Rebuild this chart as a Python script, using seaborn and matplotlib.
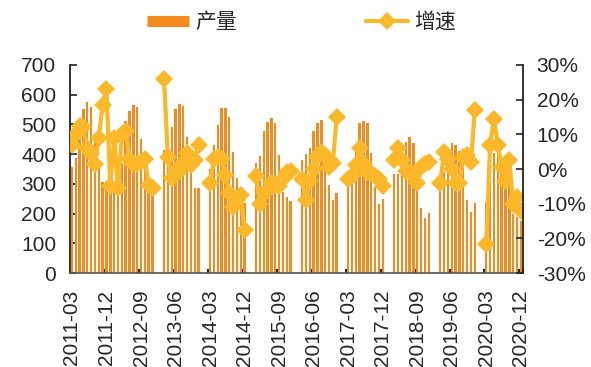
import numpy as np
import pandas as pd
import matplotlib
matplotlib.use('Agg')
import matplotlib.pyplot as plt
import seaborn as sns
from matplotlib.lines import Line2D
from matplotlib.ticker import FixedLocator, FuncFormatter

nan = np.nan
months = pd.date_range('2011-03-01', '2020-12-01', freq='MS').strftime('%Y-%m').tolist()

prod_2011 = [358, 386, 470, 552, 577, 560, 460, 362, 305, 292]
prod_2012 = [282, 285, 310, 370, 513, 545, 566, 558, 450, 390, 305, 285]
prod_2013 = [nan, nan, 415, 440, 490, 551, 570, 562, 458, 410, 285, 285]
prod_2014 = [nan, nan, 350, 431, 498, 555, 555, 526, 408, 319, 240, 235]
prod_2015 = [nan, nan, 370, 395, 478, 509, 521, 504, 397, 274, 257, 243]
prod_2016 = [nan, nan, 380, 400, 420, 478, 504, 515, 408, 296, 246, 268]
prod_2017 = [nan, nan, 330, 355, 431, 504, 513, 504, 405, 290, 232, 248]
prod_2018 = [nan, nan, 332, 332, 400, 440, 458, 437, 300, 218, 184, 201]
prod_2019 = [nan, nan, 330, 340, 380, 437, 430, 410, 360, 245, 205, 235]
prod_2020 = [nan, nan, 240, 305, 405, 400, 370, 345, 300, 200, 190, 175]

g_2011 = [7, 10, 12.5, 12, 6, 4.5, 1.5, 9, 18.5, 23]
g_2012 = [-5, 9, -5.5, 10, 11, 3, 1.5, 1.5, 2, 3, -4.6, -5.5]
g_2013 = [nan, nan, 26, 3.5, -2.7, -0.5, -1, 1.6, 4.5, 1.2, 2.6, 7]
g_2014 = [nan, nan, -4, 3, 3.5, 3, -1.7, -7, -11, -9, -7.5, -17.5]
g_2015 = [nan, nan, -2, -10, -7, -6, -4, -4.5, -5, -3, -1, -0.5]
g_2016 = [nan, nan, -3, -9, -3.5, 0, 3.5, 5, 4, 0.7, 1.6, 15]
g_2017 = [nan, nan, -3, -2, 1.2, 6, 1.5, -0.8, -1.2, -2, -3, -5]
g_2018 = [nan, nan, 2.5, 6, 2.5, -0.5, -1, -2, -4, 0.5, 1.5, 2]
g_2019 = [nan, nan, -4, 5, 3, 0, -4, -4, 3.5, 4, 2, 17]
g_2020 = [nan, nan, -21.5, 7, 14.5, 7, 0.5, -3.5, 2.5, -10, -8, -12]

production = (prod_2011 + prod_2012 + prod_2013 + prod_2014 + prod_2015 +
              prod_2016 + prod_2017 + prod_2018 + prod_2019 + prod_2020)
growth = (g_2011 + g_2012 + g_2013 + g_2014 + g_2015 +
          g_2016 + g_2017 + g_2018 + g_2019 + g_2020)

tick_labels = months[::9]

df = pd.DataFrame({'month': months, 'idx': np.arange(len(months)),
                   'prod': production, 'growth': growth})
# segment id for breaking the line at missing months
df['seg'] = df['growth'].isna().cumsum()

sns.set_theme(style='white')
plt.rcParams['font.family'] = ['Liberation Sans', 'Noto Sans CJK SC', 'DejaVu Sans']

BAR = '#F58A1F'
LINE = '#FBB92A'
FS = 15

fig = plt.figure(figsize=(5.91, 3.67), dpi=100)
ax = fig.add_axes([0.1185, 0.256, 0.766, 0.567])

sns.barplot(data=df, x='month', y='prod', order=months, ax=ax, color=BAR,
            width=0.62, saturation=1, linewidth=0, errorbar=None)
ax.set_xlim(-0.5, len(months) - 0.5)
ax.set_ylim(0, 700)
ax.set_yticks(range(0, 701, 100))
ax.set_ylabel('')
ax.set_xlabel('')

ax2 = ax.twinx()
dl = df.dropna(subset=['growth'])
sns.lineplot(data=dl, x='idx', y='growth', units='seg', estimator=None, ax=ax2,
             color=LINE, linewidth=3, marker='D', markersize=9.5,
             markeredgewidth=0, legend=False)
ax2.set_ylim(-30, 30)
ax2.set_yticks(range(-30, 31, 10))
ax2.yaxis.set_major_formatter(FuncFormatter(lambda v, p: f'{int(round(v))}%'))
ax2.set_ylabel('')
ax2.set_xlabel('')
ax2.set_xlim(-0.5, len(months) - 0.5)

tick_pos = list(range(0, len(months), 9))
ax.xaxis.set_major_locator(FixedLocator(tick_pos))
ax.set_xticklabels(tick_labels, rotation=90, fontsize=FS)
ax.tick_params(axis='x', which='major', length=0, pad=12)
ax.xaxis.set_minor_locator(FixedLocator([p - 0.5 for p in tick_pos[1:]] + [len(months) - 0.5]))
ax.tick_params(axis='x', which='minor', direction='in', length=3, width=1.4, color='#222222', bottom=True)

ax.tick_params(axis='y', direction='in', length=5, width=1.2, labelsize=FS, pad=10, left=True, color='#222222')
ax2.tick_params(axis='y', direction='in', length=5, width=1.2, labelsize=FS, pad=10, right=True, color='#222222')

for a in (ax, ax2):
    a.spines['top'].set_visible(False)
    a.grid(False)
ax.spines['left'].set_color('#222222')
ax.spines['left'].set_linewidth(1.3)
ax2.spines['right'].set_color('#222222')
ax2.spines['right'].set_linewidth(1.3)
ax.spines['right'].set_visible(False)
ax2.spines['left'].set_visible(False)
ax.spines['bottom'].set_color('#555555')
ax.spines['bottom'].set_linewidth(1.2)
ax2.spines['bottom'].set_visible(False)

handles = [Line2D([0], [0], color=BAR, linewidth=8, solid_capstyle='butt'),
           Line2D([0], [0], color=LINE, linewidth=3, marker='D', markersize=9,
                  markeredgewidth=0)]
fig.legend(handles, ['产量', '增速'], loc='center', bbox_to_anchor=(0.51, 0.94),
           ncol=2, frameon=False, handlelength=2.0,
           columnspacing=6.2, handletextpad=0.3,
           prop={'family': ['Noto Sans CJK SC'], 'size': FS})

fig.savefig('out.png', dpi=100)
